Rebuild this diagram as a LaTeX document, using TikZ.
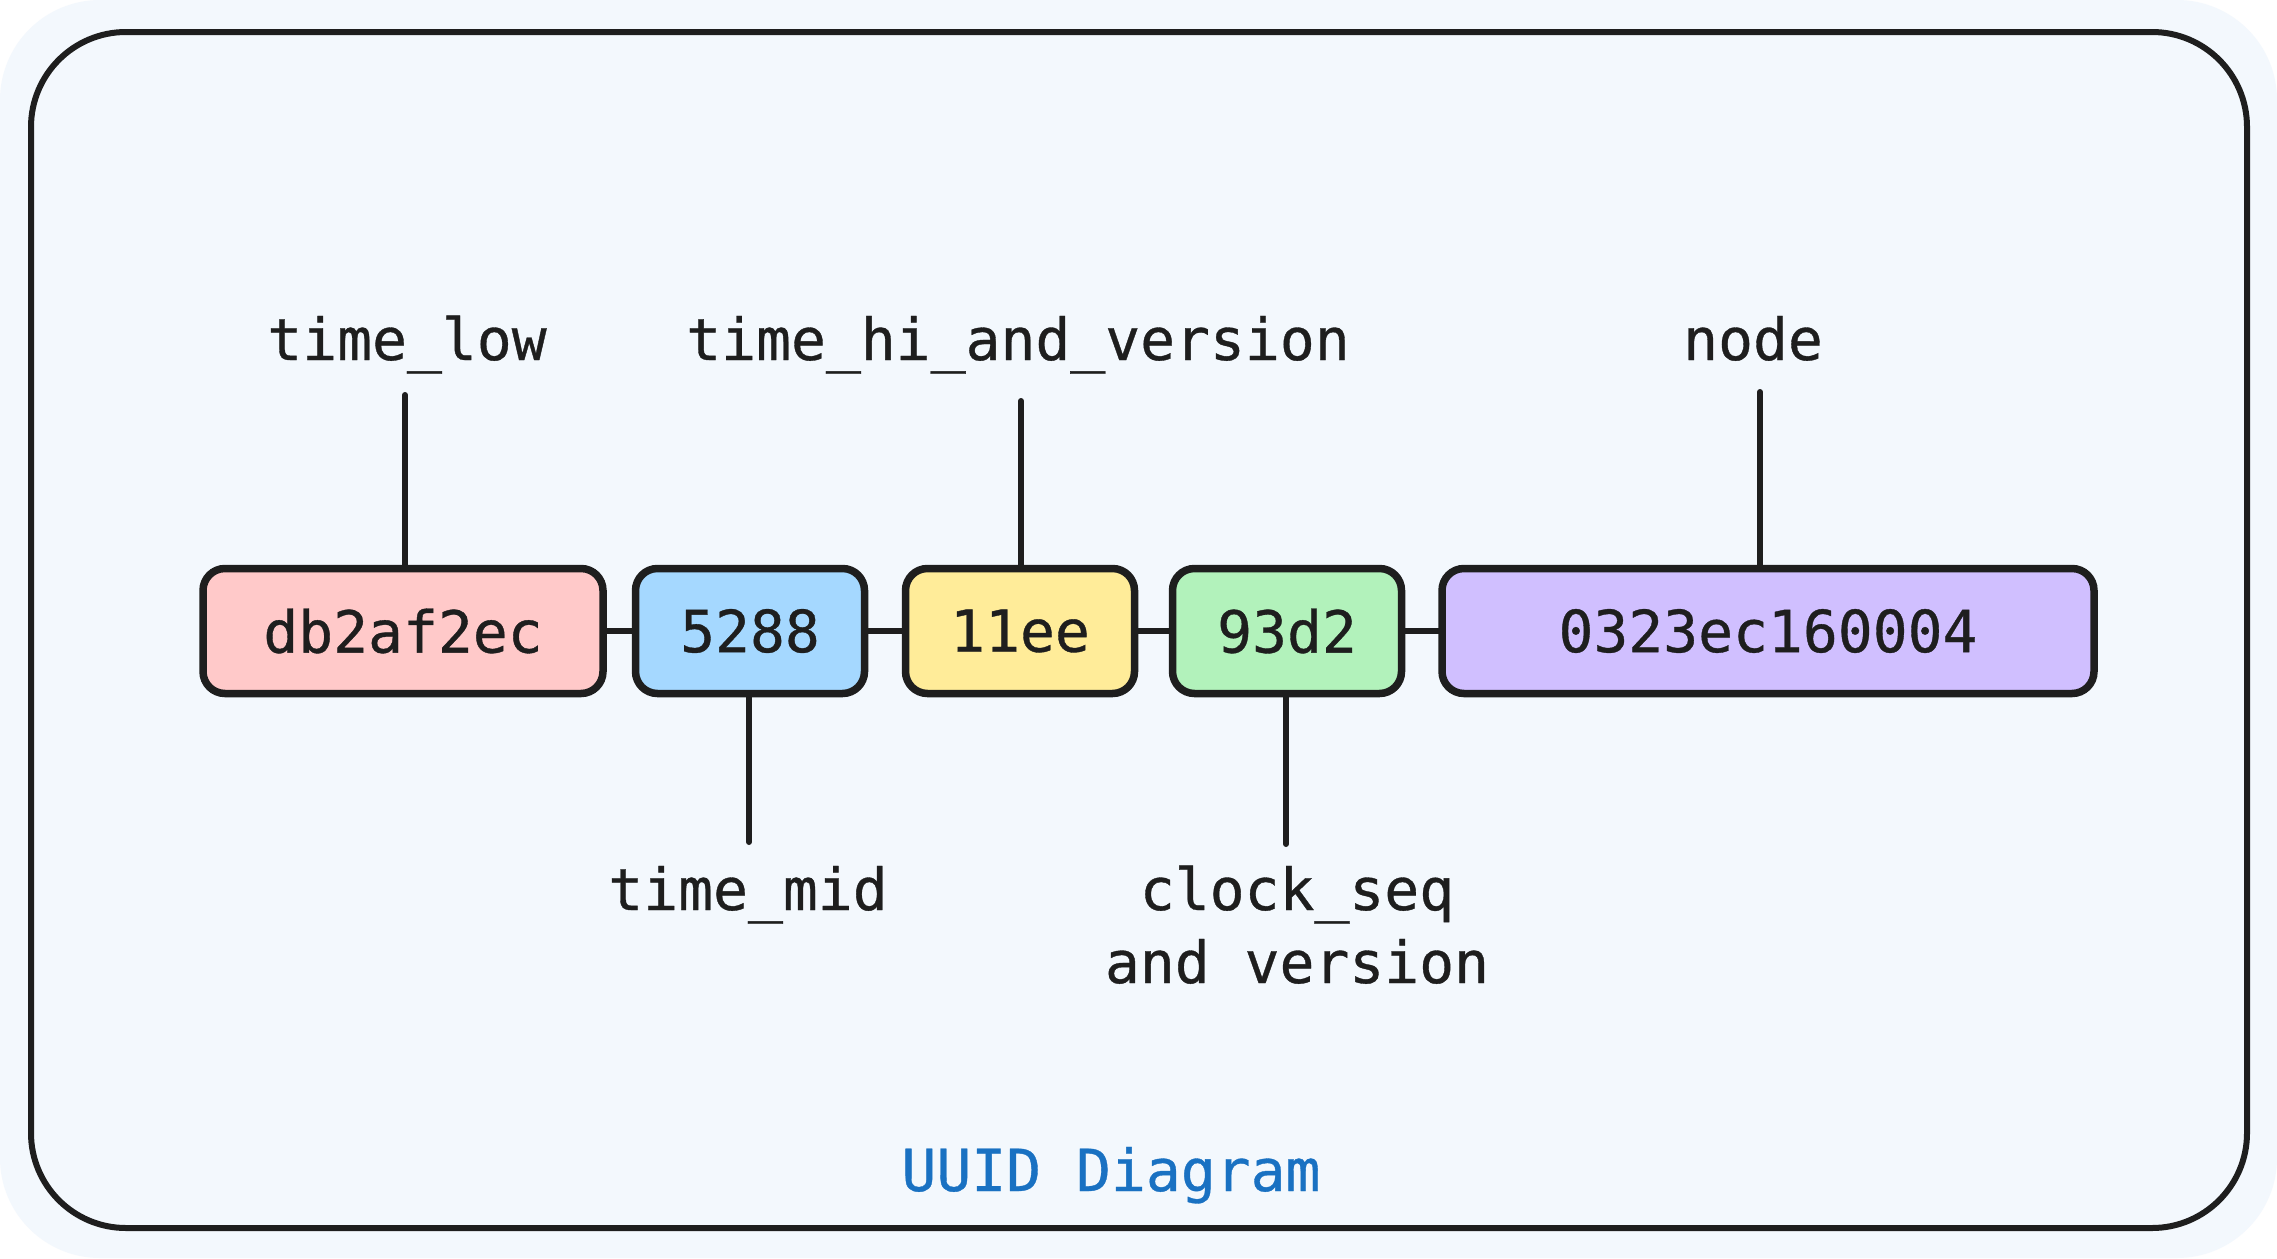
\documentclass[tikz,border=0pt]{standalone}
\usepackage{fontspec}
\newfontfamily\codefont[FakeBold=0.6]{DejaVu Sans Mono}
\definecolor{bgc}{HTML}{F3F8FD}
\definecolor{ink}{HTML}{1E1E1E}
\definecolor{pinkc}{HTML}{FFC9C9}
\definecolor{bluec}{HTML}{A5D8FF}
\definecolor{yellowc}{HTML}{FFEC99}
\definecolor{greenc}{HTML}{B2F2BB}
\definecolor{purplec}{HTML}{D0BFFF}
\definecolor{titlec}{HTML}{1971C2}
\begin{document}
\begin{tikzpicture}[x=1pt,y=-1pt,
  seg/.style={draw=ink, line width=7.5pt, rounded corners=22pt, minimum height=125pt, inner sep=0pt,
    font=\codefont\fontsize{58}{70}\selectfont, text=ink},
  lab/.style={font=\codefont\fontsize{58}{70}\selectfont, text=ink, inner sep=0pt, align=center},
  conn/.style={draw=ink, line width=6pt, line cap=round}]
\useasboundingbox (0,0) rectangle (2277,1258);
\fill[white] (0,0) rectangle (2277,1258);
\fill[bgc, rounded corners=100pt] (0,0) rectangle (2277,1258);
\draw[ink, line width=6pt, rounded corners=95pt] (31,32) rectangle (2247,1228);
% segments
\node[seg, fill=pinkc, minimum width=400pt] (db) at (403,631) {db2af2ec};
\node[seg, fill=bluec, minimum width=229pt] (s5288) at (750,631) {5288};
\node[seg, fill=yellowc, minimum width=229pt] (s11ee) at (1020,631) {11ee};
\node[seg, fill=greenc, minimum width=229pt] (s93d2) at (1287,631) {93d2};
\node[seg, fill=purplec, minimum width=652pt] (snode) at (1768,631) {0323ec160004};
% connectors between segments
\draw[conn] (db.east) -- (s5288.west);
\draw[conn] (s5288.east) -- (s11ee.west);
\draw[conn] (s11ee.east) -- (s93d2.west);
\draw[conn] (s93d2.east) -- (snode.west);
% labels
\node[lab, anchor=base] (ltl) at (407,360) {time\_low};
\node[lab, anchor=base] (lthv) at (1018,360) {time\_hi\_and\_version};
\node[lab, anchor=base] (lnode) at (1753,360) {node};
\node[lab, anchor=base] (ltm) at (748,910) {time\_mid};
\node[lab, anchor=base] (lcs1) at (1297,910) {clock\_seq};
\node[lab, anchor=base] (lcs2) at (1297,983) {and version};
\node[lab, anchor=base, text=titlec] (title) at (1111,1191) {UUID Diagram};
% label leaders
\coordinate (ctl) at (405,395);
\coordinate (cthv) at (1021,401);
\coordinate (cnode) at (1760,392);
\coordinate (ctm) at (749,842);
\coordinate (ccs) at (1286,844);
\draw[conn] (ctl) -- (ctl |- db.north);
\draw[conn] (cthv) -- (cthv |- s11ee.north);
\draw[conn] (cnode) -- (cnode |- snode.north);
\draw[conn] (ctm) -- (ctm |- s5288.south);
\draw[conn] (ccs) -- (ccs |- s93d2.south);
\end{tikzpicture}
\end{document}
